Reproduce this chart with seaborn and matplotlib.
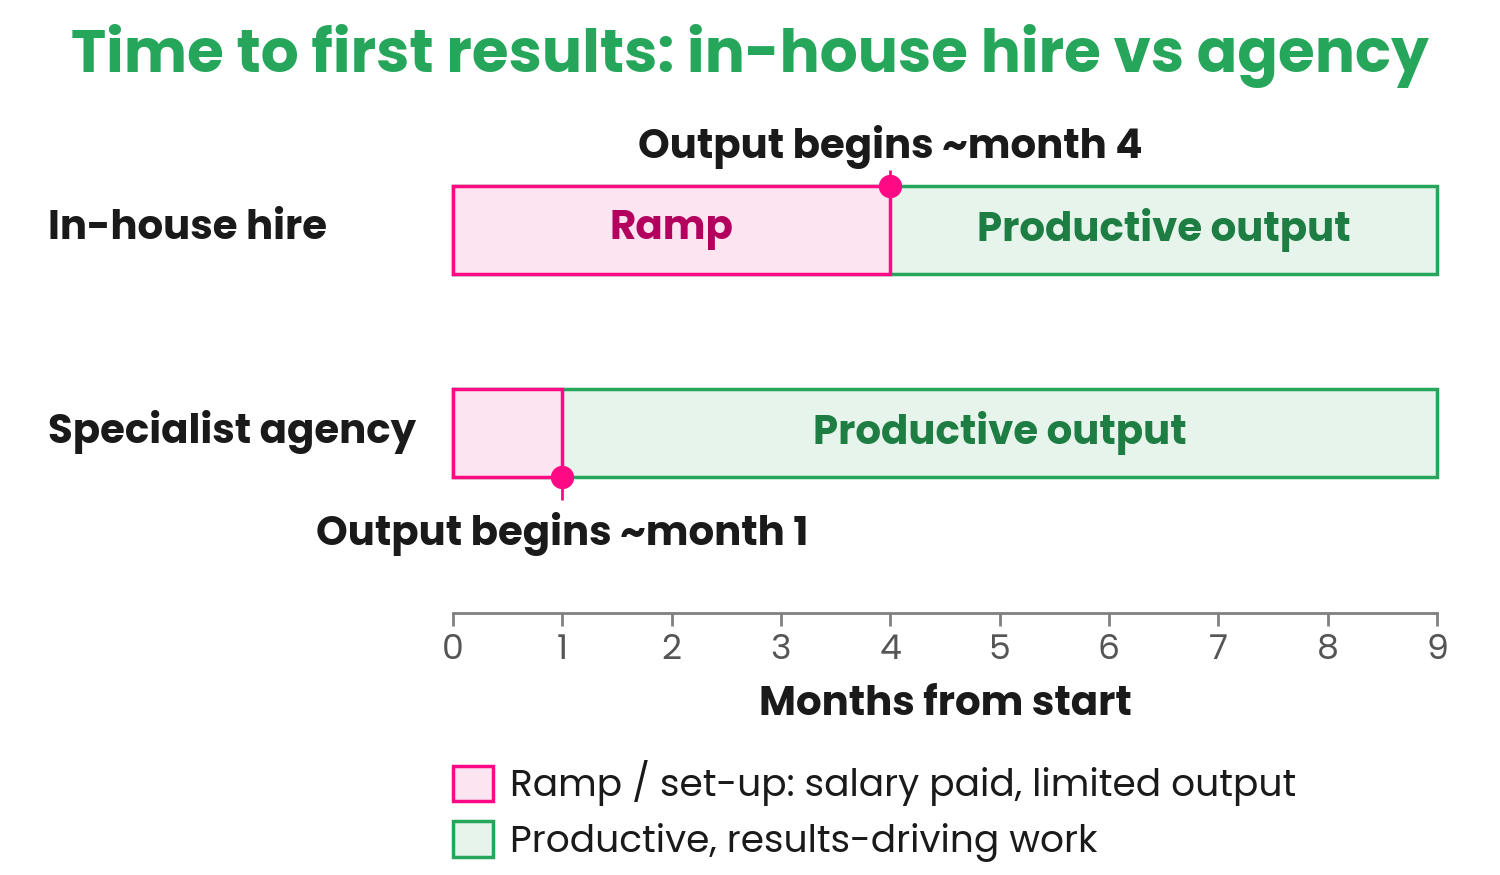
import matplotlib
matplotlib.use('Agg')
import matplotlib.pyplot as plt
import matplotlib.transforms as mtransforms
import seaborn as sns
import pandas as pd
from matplotlib.patches import Patch

# data
rows = ['In-house hire', 'Specialist agency']
ramp_months = [4, 1]
total_months = [9, 9]
ticks = list(range(0, 10))
title = 'Time to first results: in-house hire vs agency'
legend_labels = ['Ramp / set-up: salary paid, limited output', 'Productive, results-driving work']

PINK = '#FF0A85'
PINK_FILL = '#FCE4F0'
PINK_TXT = '#B3005F'
GREEN = '#25A65B'
GREEN_FILL = '#E6F4EC'
GREEN_TXT = '#1E7D42'
DARK = '#1A1A1A'

sns.set_style('white')
plt.rcParams['font.family'] = ['Poppins', 'Inter', 'DejaVu Sans']

df = pd.DataFrame({'row': rows, 'ramp': ramp_months, 'total': total_months})

fig = plt.figure(figsize=(15, 8.75), dpi=100)
ax = fig.add_axes([0.302, 0.2994, 0.656, 0.575])

# full bar (productive) then ramp on top
sns.barplot(data=df, y='row', x='total', orient='h', ax=ax, color=GREEN_FILL,
            edgecolor=GREEN, linewidth=2.5, width=0.43, saturation=1)
sns.barplot(data=df, y='row', x='ramp', orient='h', ax=ax, color=PINK_FILL,
            edgecolor=PINK, linewidth=2.5, width=0.43, saturation=1)
for p in ax.patches:
    p.set_clip_on(False)

ax.set_xlim(0, 9)
ax.set_ylim(1.887, -0.591)

# bar labels
ax.text(ramp_months[0] / 2, 0, 'Ramp', ha='center', va='center', fontsize=29,
        fontweight='bold', color=PINK_TXT)
for i, (r, t) in enumerate(zip(ramp_months, total_months)):
    ax.text((r + t) / 2, i, 'Productive output', ha='center', va='center', fontsize=29,
            fontweight='bold', color=GREEN_TXT)

# output start markers
h = 0.43 / 2
ax.plot([ramp_months[0]] * 2, [-h, -0.296], color=PINK, lw=2, solid_capstyle='butt', clip_on=False)
ax.scatter([ramp_months[0]], [-h], s=250, color=PINK, zorder=5, clip_on=False)
ax.text(ramp_months[0], -0.355, 'Output begins ~month ' + str(ramp_months[0]), ha='center',
        va='baseline', fontsize=29, fontweight='bold', color=DARK)

ax.plot([ramp_months[1]] * 2, [1 + h, 1.33], color=PINK, lw=2, solid_capstyle='butt', clip_on=False)
ax.scatter([ramp_months[1]], [1 + h], s=250, color=PINK, zorder=5, clip_on=False)
ax.text(ramp_months[1], 1.552, 'Output begins ~month ' + str(ramp_months[1]), ha='center',
        va='baseline', fontsize=29, fontweight='bold', color=DARK)

# axes styling
for s in ['top', 'right', 'left']:
    ax.spines[s].set_visible(False)
ax.spines['bottom'].set_color('#808080')
ax.spines['bottom'].set_linewidth(2)
ax.set_xticks(ticks)
ax.set_xticklabels([str(t) for t in ticks])
ax.tick_params(axis='x', bottom=True, colors='#808080', length=9, width=2, labelsize=25,
               labelcolor='#555555', pad=6)
ax.set_yticks([0, 1])
ax.set_yticklabels(rows)
ax.tick_params(axis='y', left=False, length=0, labelsize=29, labelcolor=DARK, pad=0)
lift = mtransforms.ScaledTranslation(0, 6 / 100, fig.dpi_scale_trans)
for lab in ax.get_yticklabels():
    lab.set_fontweight('bold')
    lab.set_horizontalalignment('left')
    lab.set_x(-0.4116)
    lab.set_transform(lab.get_transform() + lift)
ax.set_ylabel('')
ax.set_xlabel('Months from start', fontsize=29, fontweight='bold', color=DARK, labelpad=12)

fig.text(0.5, 0.918, title, ha='center', va='baseline', fontsize=43, fontweight='bold', color=GREEN)

handles = [Patch(facecolor=PINK_FILL, edgecolor=PINK, linewidth=2.5),
           Patch(facecolor=GREEN_FILL, edgecolor=GREEN, linewidth=2.5)]
leg = fig.legend(handles, legend_labels, loc='upper left', bbox_to_anchor=(0.302, 0.131), frameon=False,
                 fontsize=27, handlelength=1.07, handleheight=1.07, handletextpad=0.45, labelspacing=0.4,
                 borderaxespad=0, borderpad=0)
for t in leg.get_texts():
    t.set_color(DARK)

fig.savefig('out.png', dpi=100)
